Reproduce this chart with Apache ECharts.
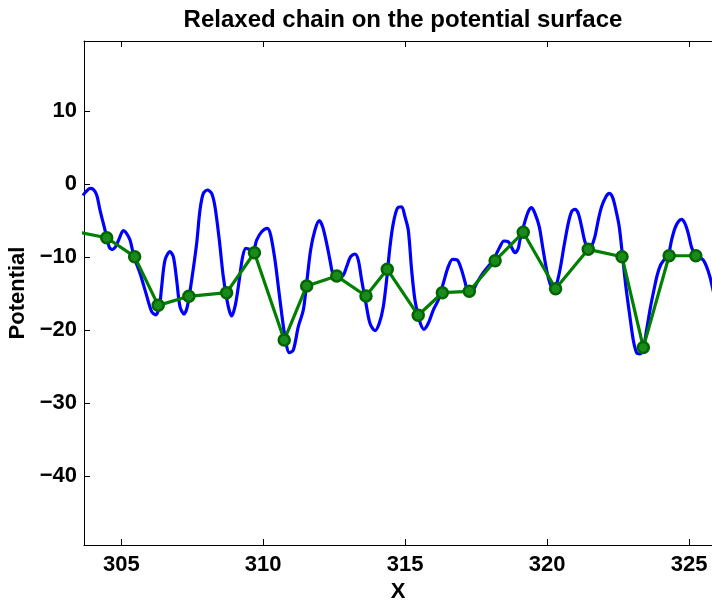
<!DOCTYPE html>
<html>
<head>
<meta charset="utf-8">
<script src="https://cdn.jsdelivr.net/npm/echarts@6/dist/echarts.min.js"></script>
<style>
html,body{margin:0;padding:0;background:#fff;}
#chart{width:712px;height:606px;}
</style>
</head>
<body>
<div id="chart"></div>
<script>
// Potential surface (blue curve), [x, potential]
var potentialCurve = [
[303.65,-1.6],[303.757,-1.08],[303.898,-0.63],[304.015,-0.76],[304.133,-1.54],[304.250,-3.59],[304.426,-6.33],
[304.579,-8.70],[304.696,-8.98],[304.813,-8.52],[304.931,-7.47],[305.072,-6.42],[305.166,-6.69],[305.307,-7.70],
[305.448,-9.98],[305.659,-12.26],[305.870,-15.00],[306.070,-17.51],[306.211,-17.96],[306.340,-16.82],[306.422,-14.09],
[306.540,-10.44],[306.716,-9.29],[306.833,-9.98],[306.950,-13.17],[307.068,-16.82],[307.209,-17.83],[307.326,-16.82],
[307.479,-13.17],[307.655,-8.15],[307.772,-3.59],[307.890,-1.31],[308.031,-0.85],[308.183,-1.31],[308.301,-3.14],
[308.453,-7.70],[308.594,-12.72],[308.770,-16.82],[308.888,-18.10],[309.005,-16.82],[309.123,-14.09],[309.275,-9.98],
[309.393,-8.84],[309.510,-8.98],[309.651,-9.07],[309.768,-7.70],[309.945,-6.56],[310.144,-6.10],[310.262,-7.01],
[310.414,-10.44],[310.532,-14.09],[310.649,-17.73],[310.767,-20.93],[310.919,-23.12],[311.060,-22.75],[311.236,-19.56],
[311.412,-17.28],[311.529,-13.63],[311.670,-9.07],[311.823,-6.33],[311.975,-5.05],[312.093,-5.87],[312.234,-8.15],
[312.351,-10.44],[312.469,-12.49],[312.645,-12.94],[312.821,-12.49],[312.938,-11.35],[313.079,-9.98],[313.232,-9.61],
[313.349,-10.44],[313.467,-13.17],[313.619,-16.37],[313.760,-19.10],[313.936,-20.11],[314.089,-19.10],[314.230,-16.82],
[314.347,-13.17],[314.465,-8.61],[314.582,-5.42],[314.723,-3.36],[314.876,-3.14],[314.993,-4.50],[315.110,-6.33],
[315.228,-11.80],[315.345,-15.91],[315.498,-18.65],[315.662,-19.93],[315.815,-19.10],[315.991,-17.28],[316.167,-15.91],
[316.343,-13.63],[316.519,-11.35],[316.672,-10.34],[316.836,-10.44],[316.989,-11.80],[317.106,-13.40],[317.224,-14.77],
[317.376,-14.63],[317.517,-13.63],[317.693,-12.49],[317.870,-11.58],[318.104,-10.44],[318.339,-8.61],[318.480,-7.83],
[318.633,-7.93],[318.750,-8.70],[318.868,-9.43],[318.985,-8.84],[319.043,-7.70],[319.184,-5.65],[319.337,-3.82],
[319.454,-3.27],[319.572,-4.05],[319.724,-5.87],[319.842,-8.61],[319.983,-11.80],[320.100,-13.63],[320.194,-14.31],
[320.311,-14.00],[320.452,-11.80],[320.593,-8.61],[320.746,-5.42],[320.863,-3.82],[320.981,-3.50],[321.098,-4.05],
[321.216,-5.87],[321.333,-7.93],[321.450,-8.84],[321.568,-8.52],[321.685,-7.24],[321.803,-4.96],[321.920,-3.14],
[322.073,-1.77],[322.190,-1.31],[322.308,-1.86],[322.425,-3.59],[322.542,-5.87],[322.660,-9.98],[322.777,-14.09],
[322.918,-18.19],[323.036,-21.38],[323.153,-23.12],[323.270,-23.30],[323.388,-22.53],[323.505,-20.02],[323.646,-16.82],
[323.764,-14.54],[323.881,-12.49],[323.998,-11.12],[324.116,-10.44],[324.268,-9.75],[324.386,-7.70],[324.503,-6.10],
[324.621,-5.19],[324.738,-4.87],[324.856,-5.42],[324.973,-6.79],[325.090,-8.70],[325.208,-9.66],[325.325,-9.98],
[325.501,-10.44],[325.619,-11.35],[325.736,-12.72],[325.807,-13.86],[325.90,-15.5]
];
// Relaxed chain nodes (green), [x, potential]
var chainNodes = [
[303.40,-6.57],[304.486,-7.38],[305.47,-9.98],[306.30,-16.64],[307.38,-15.40],[308.71,-14.91],[309.69,-9.44],
[310.74,-21.39],[311.53,-13.99],[312.59,-12.63],[313.62,-15.36],[314.37,-11.71],[315.46,-18.00],[316.31,-14.91],
[317.26,-14.72],[318.17,-10.53],[319.16,-6.64],[320.30,-14.36],[321.45,-8.97],[322.64,-9.98],[323.39,-22.40],
[324.30,-9.85],[325.24,-9.85]
];
var xTicks = [305, 310, 315, 320, 325];
var yTicks = [10, 0, -10, -20, -30, -40];
var xRange = [303.686, 325.81];
var yRange = [-49.45, 19.55];

var chart = echarts.init(document.getElementById('chart'), null, {renderer: 'canvas'});
var font = 'Liberation Sans';
function fmt(v){ return String(v).replace('-', '\u2212'); }
var axisCommon = {
  type: 'value',
  axisLine: {show: true, onZero: false, lineStyle: {color: '#000', width: 1}},
  splitLine: {show: false}
};
chart.setOption({
  animation: false,
  backgroundColor: '#fff',
  title: {
    text: 'Relaxed chain on the potential surface',
    left: 398, top: 3, textAlign: 'center',
    textStyle: {fontFamily: font, fontWeight: 'bold', fontSize: 24, color: '#000'}
  },
  grid: {left: 84, right: 0, top: 41, bottom: 61, containLabel: false, outerBoundsMode: 'none'},
  xAxis: [
    Object.assign({}, axisCommon, {
      position: 'bottom', min: xRange[0], max: xRange[1],
      name: 'X', nameLocation: 'middle', nameGap: 36,
      nameTextStyle: {fontFamily: font, fontWeight: 'bold', fontSize: 22, color: '#000'},
      axisTick: {show: true, inside: true, length: 6, customValues: xTicks, lineStyle: {color: '#000'}},
      axisLabel: {show: true, customValues: xTicks, formatter: fmt, margin: 9,
        fontFamily: font, fontWeight: 'bold', fontSize: 22, color: '#000'}
    }),
    Object.assign({}, axisCommon, {
      position: 'top', min: xRange[0], max: xRange[1],
      axisTick: {show: true, inside: true, length: 6, customValues: xTicks, lineStyle: {color: '#000'}},
      axisLabel: {show: false}
    })
  ],
  yAxis: [
    Object.assign({}, axisCommon, {
      position: 'left', min: yRange[0], max: yRange[1],
      name: 'Potential', nameLocation: 'middle', nameGap: 53, nameRotate: 90,
      nameTextStyle: {fontFamily: font, fontWeight: 'bold', fontSize: 22, color: '#000'},
      axisTick: {show: true, inside: true, length: 6, customValues: yTicks, lineStyle: {color: '#000'}},
      axisLabel: {show: true, customValues: yTicks, formatter: fmt, margin: 7,
        fontFamily: font, fontWeight: 'bold', fontSize: 22, color: '#000'}
    })
  ],
  series: [
    {
      type: 'line', xAxisIndex: 0, yAxisIndex: 0,
      data: potentialCurve, showSymbol: false, symbol: 'none', smooth: 0.3,
      clip: true,
      lineStyle: {color: '#0000ff', width: 3.2}
    },
    {
      type: 'line', xAxisIndex: 0, yAxisIndex: 0,
      data: chainNodes, symbol: 'circle', symbolSize: 11, clip: true,
      lineStyle: {color: '#007f00', width: 3.2},
      itemStyle: {color: '#1a8a1a', borderColor: '#006600', borderWidth: 2.5}
    }
  ]
});
</script>
</body>
</html>
